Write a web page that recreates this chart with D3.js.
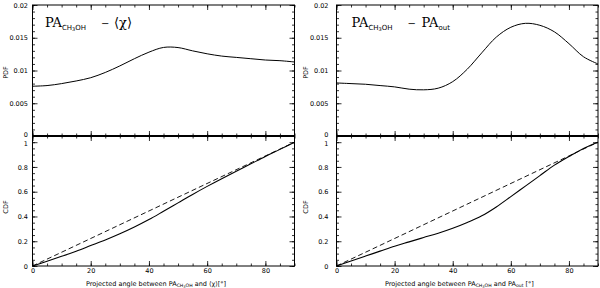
<!DOCTYPE html>
<html>
<head>
<meta charset="utf-8">
<script src="https://cdn.jsdelivr.net/npm/d3@7"></script>
<style>
  body { margin: 0; background: #fff; }
  svg { display: block; }
  .tick text { font-family: "DejaVu Sans", sans-serif; font-size: 6.5px; fill: #000; }
  .axisText { font-family: "DejaVu Sans", sans-serif; font-size: 6.5px; fill: #000; }
  .axisText tspan { fill: #000; }
  .note { font-family: "DejaVu Serif", serif; fill: #000; }
</style>
</head>
<body>
<div id="chart"></div>
<script>
var svgWidth = 600;
var svgHeight = 288;

// angle grid (degrees), shared by all curves
var angles = [0, 5, 10, 15, 20, 25, 30, 35, 40, 45, 50, 55, 60, 65, 70, 75, 80, 85, 90];

// left: PA(CH3OH) - <chi>
var pdfChi = [0.0076, 0.0077, 0.0080, 0.0084, 0.0089, 0.0097, 0.0107, 0.0118, 0.0128, 0.01352,
    0.0135, 0.0130, 0.01255, 0.0122, 0.0120, 0.0118, 0.0116, 0.0115, 0.0113];
var cdfChi = [0, 0.038, 0.078, 0.12, 0.165, 0.21, 0.26, 0.315, 0.375, 0.442,
    0.51, 0.578, 0.643, 0.705, 0.765, 0.825, 0.885, 0.942, 1.0];

// right: PA(CH3OH) - PA(out)
var pdfOut = [0.0081, 0.0080, 0.0079, 0.0077, 0.0075, 0.00715, 0.00705, 0.0073, 0.0083, 0.0102,
    0.0127, 0.0151, 0.0166, 0.0172, 0.0169, 0.0159, 0.0141, 0.0121, 0.0110];
var cdfOut = [0, 0.04, 0.08, 0.12, 0.16, 0.195, 0.23, 0.265, 0.305, 0.352,
    0.405, 0.477, 0.56, 0.645, 0.73, 0.815, 0.885, 0.95, 1.0];

// uniform reference CDF (dashed)
var uniformX = [0, 90];
var uniformY = [0, 1];

var pdfTicks = [0, 0.005, 0.01, 0.015, 0.02];
var cdfTicks = [0, 0.2, 0.4, 0.6, 0.8, 1];
var xTicks = [0, 20, 40, 60, 80];

var svg = d3.select("#chart")
    .append("svg")
    .attr("width", svgWidth)
    .attr("height", svgHeight);

var panels = [
    { ox: 0, left: 32.5, right: 294.5, pad: 4.5, pdf: pdfChi, cdf: cdfChi, which: "chi" },
    { ox: 300, left: 336.5, right: 598, pad: 8, pdf: pdfOut, cdf: cdfOut, which: "out" }
];

var top1 = 5, mid = 136, bot = 266;

panels.forEach(function (p) {
    var g = svg.append("g");

    var x = d3.scaleLinear().domain([0, 90]).range([p.left, p.right]);
    var yPdf = d3.scaleLinear().domain([0, 0.02]).range([mid, top1]);
    var yCdf = d3.scaleLinear().domain([0, 1.05]).range([bot, mid]);

    var xMinor = d3.range(0, 91, 5);
    var pdfMinor = d3.range(0, 0.0201, 0.001);
    var cdfMinor = d3.range(0, 1.051, 0.05);

    // tick sets for one frame: major with labels on left/bottom, minor everywhere
    function frame(yScale, yMajor, yMinor, y0, y1, showX, cls) {
        g.append("g").attr("transform", `translate(0,${y1})`)
            .call(d3.axisBottom(x).tickValues(xMinor).tickSize(-2.5).tickFormat(""));
        g.append("g").attr("transform", `translate(0,${y0})`)
            .call(d3.axisTop(x).tickValues(xMinor).tickSize(-2.5).tickFormat(""));
        g.append("g").attr("transform", `translate(${p.left},0)`)
            .call(d3.axisLeft(yScale).tickValues(yMinor).tickSize(-2.5).tickFormat(""));
        g.append("g").attr("transform", `translate(${p.right},0)`)
            .call(d3.axisRight(yScale).tickValues(yMinor).tickSize(-2.5).tickFormat(""));
        g.append("g").attr("transform", `translate(0,${y1})`)
            .call(d3.axisBottom(x).tickValues(xTicks).tickSize(-5).tickPadding(2.5)
                .tickFormat(showX ? d3.format("d") : ""));
        g.append("g").attr("transform", `translate(0,${y0})`)
            .call(d3.axisTop(x).tickValues(xTicks).tickSize(-5).tickFormat(""));
        g.append("g").attr("class", cls).attr("transform", `translate(${p.left},0)`)
            .call(d3.axisLeft(yScale).tickValues(yMajor).tickSize(-5).tickPadding(p.pad)
                .tickFormat(d3.format("~g")));
        g.append("g").attr("transform", `translate(${p.right},0)`)
            .call(d3.axisRight(yScale).tickValues(yMajor).tickSize(-5).tickFormat(""));
    }

    frame(yPdf, pdfTicks, pdfMinor, top1, mid, false, "yPdf");
    frame(yCdf, cdfTicks, cdfMinor, mid, bot, true, "yCdf");

    // the "0" of the PDF and the "1" of the CDF sit on top of each other in the original
    g.selectAll(".yPdf .tick text").filter(d => d == 0).attr("dy", "0.05em");
    g.selectAll(".yCdf .tick text").filter(d => d == 1).attr("dy", "0.55em");

    g.selectAll(".domain").remove();
    g.selectAll(".tick line").attr("stroke", "#000").attr("stroke-width", 0.8);

    // frames
    g.append("rect")
        .attr("x", p.left).attr("y", top1)
        .attr("width", p.right - p.left).attr("height", bot - top1)
        .attr("fill", "none").attr("stroke", "#000").attr("stroke-width", 1);
    g.append("line")
        .attr("x1", p.left).attr("x2", p.right).attr("y1", mid).attr("y2", mid)
        .attr("stroke", "#000").attr("stroke-width", 1.8);

    // curves
    var line = function (yScale) {
        return d3.line().x((d, i) => x(angles[i])).y(d => yScale(d)).curve(d3.curveCatmullRom.alpha(0.5));
    };
    g.append("path").datum(p.pdf)
        .attr("d", line(yPdf)).attr("fill", "none").attr("stroke", "#000").attr("stroke-width", 1);
    g.append("path").datum(p.cdf)
        .attr("d", line(yCdf)).attr("fill", "none").attr("stroke", "#000").attr("stroke-width", 1.1);
    g.append("path").datum(uniformY)
        .attr("d", d3.line().x((d, i) => x(uniformX[i])).y(d => yCdf(d)))
        .attr("fill", "none").attr("stroke", "#000").attr("stroke-width", 0.9)
        .attr("stroke-dasharray", "5,3");

    // axis labels
    g.append("text")
        .attr("class", "axisText")
        .attr("transform", `translate(${p.ox + 7.5}, ${(top1 + mid) / 2 + 2}) rotate(-90)`)
        .attr("text-anchor", "middle")
        .text("PDF");
    g.append("text")
        .attr("class", "axisText")
        .attr("transform", `translate(${p.ox + 7.5}, ${(mid + bot) / 2 + 6}) rotate(-90)`)
        .attr("text-anchor", "middle")
        .text("CDF");

    var xt = g.append("text").attr("class", "axisText")
        .attr("x", p.which == "chi" ? 86 : 385).attr("y", 285.5);
    xt.append("tspan").text("Projected angle between PA");
    xt.append("tspan").style("font-size", "4.6px").attr("dy", 1.5).text("CH");
    xt.append("tspan").style("font-size", "3.5px").attr("dy", 0.8).text("3");
    xt.append("tspan").style("font-size", "4.6px").attr("dy", -0.8).text("OH");
    if (p.which == "chi") {
        xt.append("tspan").attr("dy", -1.5).text(" and \u27E8\u03C7\u27E9[\u00B0]");
    } else {
        xt.append("tspan").attr("dy", -1.5).text(" and PA");
        xt.append("tspan").style("font-size", "4.6px").attr("dy", 1.5).text("out");
        xt.append("tspan").attr("dy", -1.5).text(" [\u00B0]");
    }

    // panel annotation: PA_CH3OH  -  <chi>  /  PA_out
    var x0 = p.left + (p.which == "chi" ? 12.5 : 15);
    var note = g.append("text").attr("class", "note").attr("x", x0).attr("y", 27);
    note.append("tspan").style("font-size", "13px").text("PA");
    note.append("tspan").style("font-family", "DejaVu Sans").style("font-size", "7px")
        .attr("dy", 3).text("CH");
    note.append("tspan").style("font-family", "DejaVu Sans").style("font-size", "5px")
        .attr("dy", 1.4).text("3");
    note.append("tspan").style("font-family", "DejaVu Sans").style("font-size", "7px")
        .attr("dy", -1.4).text("OH");
    note.append("tspan").style("font-size", "10px").attr("x", x0 + 56).attr("dy", -3).text("\u2212");
    if (p.which == "chi") {
        note.append("tspan").style("font-size", "13px").attr("x", x0 + 69).text("\u27E8\u03C7\u27E9");
    } else {
        note.append("tspan").style("font-size", "13px").attr("x", x0 + 70).text("PA");
        note.append("tspan").style("font-family", "DejaVu Sans").style("font-size", "7px")
            .attr("dy", 3).text("out");
    }
});
</script>
</body>
</html>
